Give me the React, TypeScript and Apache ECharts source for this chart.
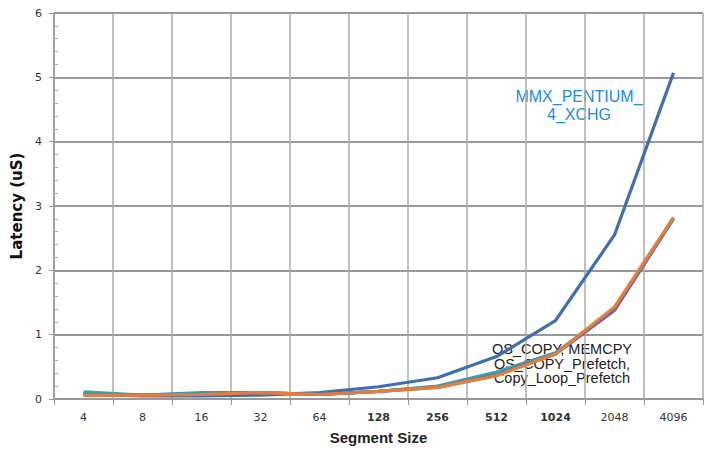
import React, { useEffect, useRef } from "react";
import * as echarts from "echarts";

const categories = ["4", "8", "16", "32", "64", "128", "256", "512", "1024", "2048", "4096"];
const boldCategories = ["128", "256", "512", "1024"];
const mmxXchg = [0.08, 0.05, 0.05, 0.06, 0.1, 0.19, 0.33, 0.66, 1.22, 2.55, 5.07];
const osCopy = [0.11, 0.06, 0.1, 0.1, 0.07, 0.12, 0.2, 0.42, 0.72, 1.4, 2.82];
const memcpy = [0.07, 0.06, 0.08, 0.1, 0.07, 0.12, 0.19, 0.38, 0.7, 1.38, 2.8];
const osCopyPrefetch = [0.06, 0.06, 0.07, 0.1, 0.07, 0.12, 0.18, 0.37, 0.7, 1.38, 2.81];
const copyLoopPrefetch = [0.06, 0.06, 0.07, 0.1, 0.07, 0.12, 0.18, 0.36, 0.7, 1.43, 2.82];
const yTicks = [0, 1, 2, 3, 4, 5, 6];

export default function App() {
  const ref = useRef<HTMLDivElement>(null);
  useEffect(() => {
    const chart = echarts.init(ref.current!, null, { renderer: "svg" });
    const mk = (name: string, data: number[], color: string) => ({
      name,
      type: "line",
      data,
      symbol: "none",
      lineStyle: { color, width: 3.2 },
      itemStyle: { color },
    });
    chart.setOption({
      animation: false,
      grid: { left: 54, right: 4, top: 13, bottom: 50 },
      xAxis: {
        type: "category",
        data: categories.map((c) => ({
          value: c,
          textStyle: { fontWeight: boldCategories.includes(c) ? "bold" : "normal" },
        })),
        boundaryGap: true,
        name: "Segment Size",
        nameLocation: "middle",
        nameGap: 31,
        nameTextStyle: { fontFamily: "Liberation Sans", fontWeight: "bold", fontSize: 15, color: "#222" },
        axisLine: { lineStyle: { color: "#999", width: 1.5 } },
        axisTick: { show: true, alignWithLabel: false, length: 6, lineStyle: { color: "#999" } },
        axisLabel: { fontFamily: "DejaVu Sans", fontSize: 11, color: "#333", margin: 13 },
        splitLine: { show: true, lineStyle: { color: "#aaa", width: 1.5 } },
      },
      yAxis: [
        {
          type: "value",
          min: 0,
          max: 6,
          interval: 1,
          name: "Latency (uS)",
          nameLocation: "middle",
          nameGap: 30,
          nameTextStyle: { fontFamily: "DejaVu Sans", fontWeight: "bold", fontSize: 15, color: "#111" },
          axisLine: { show: true, lineStyle: { color: "#999", width: 1.5 } },
          axisTick: { show: true, length: 5, lineStyle: { color: "#999" } },
          axisLabel: {
            fontFamily: "DejaVu Sans",
            fontSize: 11,
            color: "#333",
            margin: 12,
            formatter: (v: number) => (yTicks.includes(v) ? String(v) : ""),
          },
          splitLine: { show: true, lineStyle: { color: "#999", width: 2 } },
        },
        {
          type: "value",
          min: 0,
          max: 6,
          interval: 1,
          position: "left",
          offset: 0,
          axisLine: { show: true, lineStyle: { color: "rgba(0,0,0,0)" } },
          axisTick: { show: true, inside: true, length: 0.01, lineStyle: { color: "rgba(0,0,0,0)" } },
          axisLabel: { show: false },
          splitLine: { show: false },
          minorTick: { show: true, splitNumber: 5, length: 4, lineStyle: { color: "#aaa", width: 1 } },
        },
      ],
      series: [
        mk("MMX_PENTIUM_4_XCHG", mmxXchg, "#3f6fb2"),
        mk("OS_COPY", osCopy, "#3a9fb2"),
        mk("MEMCPY", memcpy, "#4a8fa0"),
        mk("OS_COPY_Prefetch", osCopyPrefetch, "#7a5ea8"),
        mk("Copy_Loop_Prefetch", copyLoopPrefetch, "#e47f3a"),
        { name: "minor", type: "line", yAxisIndex: 1, data: [], symbol: "none" },
      ],
      graphic: [
        {
          type: "text",
          x: 579,
          y: 87,
          style: {
            text: "MMX_PENTIUM_\n4_XCHG",
            fill: "#1a8ceb",
            font: "16px 'Liberation Sans'",
            align: "center",
            lineHeight: 18,
          },
        },
        {
          type: "text",
          x: 562,
          y: 342,
          style: {
            text: "OS_COPY, MEMCPY\nOS_COPY_Prefetch,\nCopy_Loop_Prefetch",
            fill: "#222",
            font: "14.5px 'Liberation Sans'",
            align: "center",
            lineHeight: 14.5,
          },
        },
      ],
    });
    return () => chart.dispose();
  }, []);
  return <div ref={ref} style={{ width: 707, height: 450, position: "absolute", left: 0, top: 0 }} />;
}
